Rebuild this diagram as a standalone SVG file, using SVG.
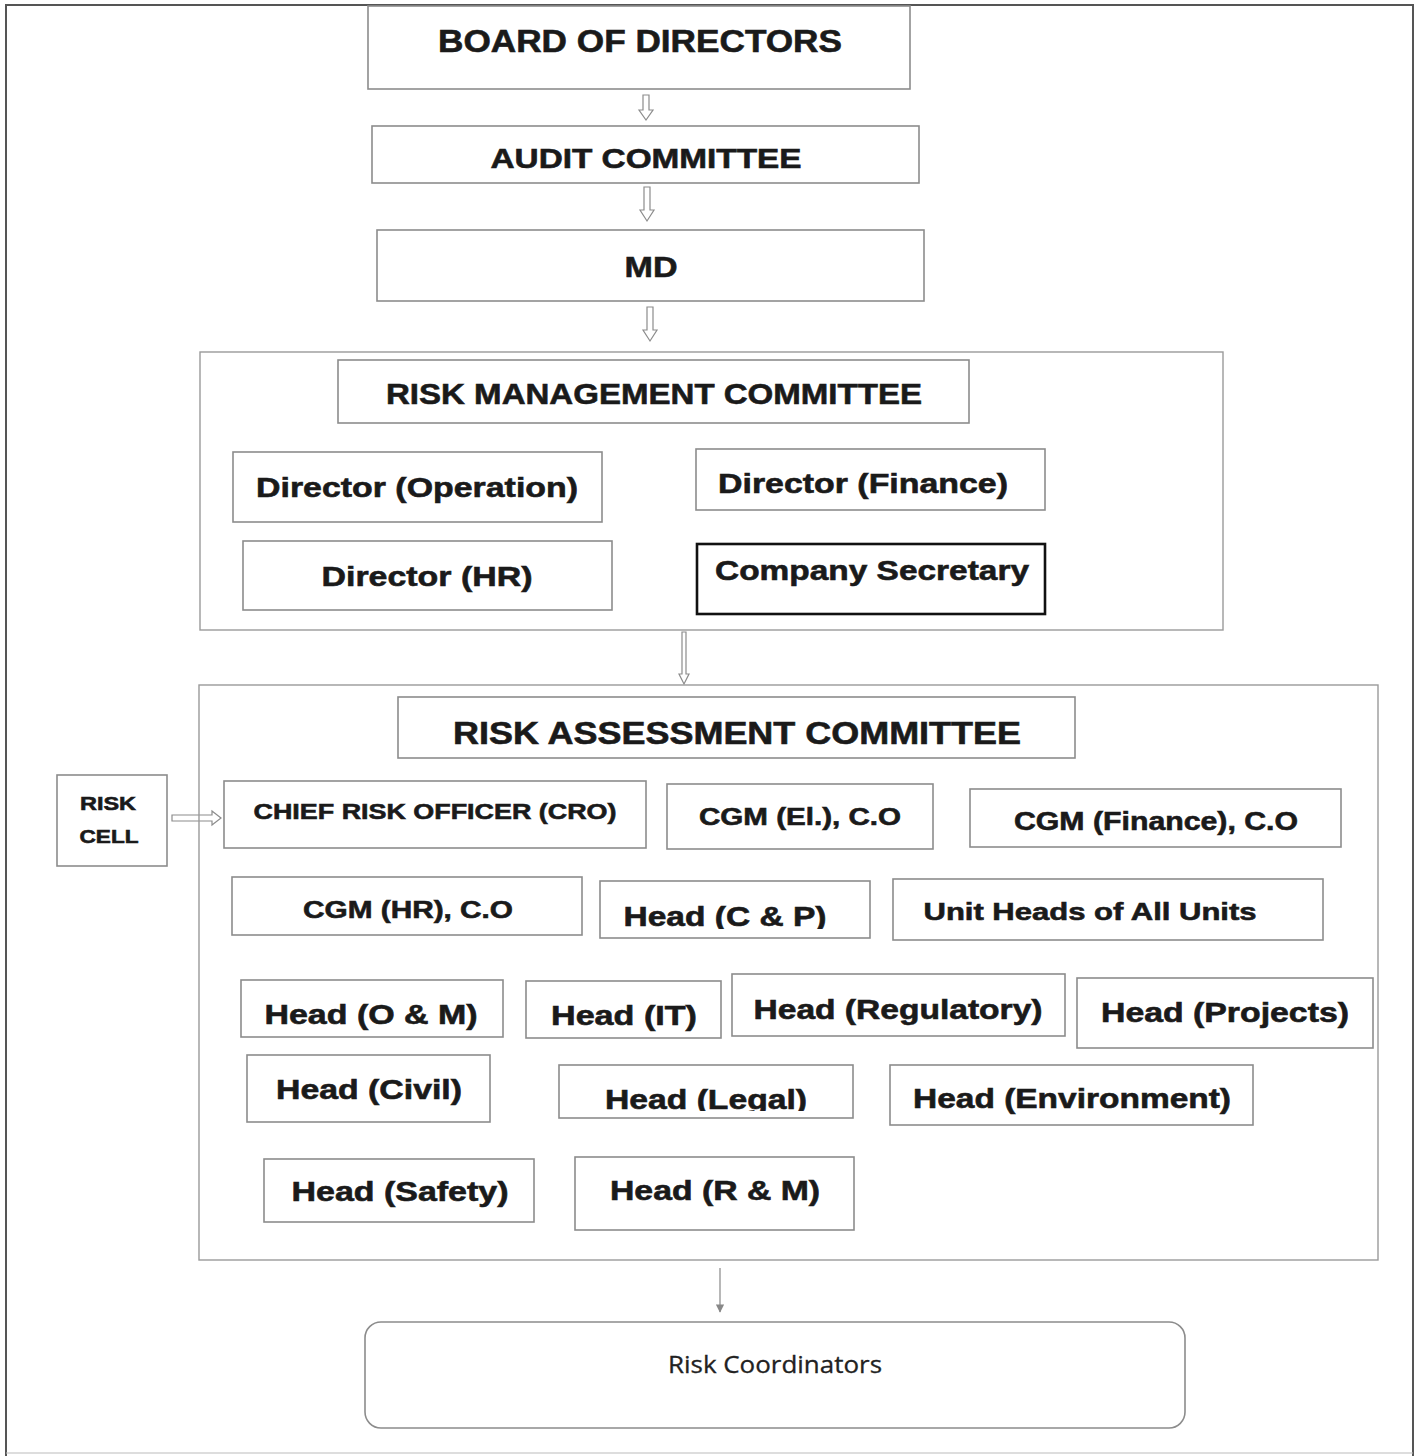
<svg xmlns="http://www.w3.org/2000/svg" width="1418" height="1456" viewBox="0 0 1418 1456">
<style>
.bx{fill:#fff;stroke:#8c8c8c;stroke-width:1.6}
.ct{fill:none;stroke:#9a9a9a;stroke-width:1.4}
.thk{fill:#fff;stroke:#111;stroke-width:2.6}
.t{font-family:"Liberation Sans",Arial,sans-serif;font-weight:bold;fill:#1a1a1a;stroke:#1a1a1a;stroke-width:0.6;text-anchor:middle}
.r{font-family:"Open Sans","Liberation Sans",sans-serif;font-weight:normal;fill:#222;stroke:#222;stroke-width:0.3;text-anchor:middle}
.ar{fill:#fff;stroke:#8c8c8c;stroke-width:1.2}
.ln{fill:none;stroke:#888;stroke-width:1.2}
</style>
<defs>
<marker id="ah" viewBox="0 0 10 10" refX="9" refY="5" markerWidth="7" markerHeight="7" orient="auto">
<path d="M0,0 L10,5 L0,10 Z" fill="#888"/>
</marker>
<clipPath id="clipCP"><rect x="600" y="881" width="270" height="48"/></clipPath>
<clipPath id="clipLG"><rect x="559" y="1065" width="294" height="46"/></clipPath>
</defs>
<rect width="1418" height="1456" fill="#fff"/>
<g id="page-frame">
<path d="M6,1456 L6,5 L1413,5 L1413,1456" fill="none" stroke="#555" stroke-width="2"/>
<path d="M6,1453 L1413,1453" fill="none" stroke="#bbb" stroke-width="1"/>
</g>

<g id="connectors">
<path class="ar" d="M643,95 L649,95 L649,110 L653,110 L646,120 L639,110 L643,110 Z"/>
<path class="ar" d="M644,187 L650,187 L650,210 L654,210 L647,221 L640,210 L644,210 Z"/>
<path class="ar" d="M647,307 L653,307 L653,330 L657,330 L650,341 L643,330 L647,330 Z"/>
<path class="ar" d="M682,632 L686,632 L686,674 L689,674 L684,684 L679,674 L682,674 Z"/>
<path class="ar" d="M172,815 L212,815 L212,811 L221,818 L212,825 L212,821 L172,821 Z"/>
<line class="ln" x1="720" y1="1268" x2="720" y2="1312" marker-end="url(#ah)"/>
</g>

<g id="board">
<rect class="bx" x="368" y="6" width="542" height="83"/>
<text class="t" x="640" y="52" font-size="31" textLength="404" lengthAdjust="spacingAndGlyphs">BOARD OF DIRECTORS</text>
</g>
<g id="audit">
<rect class="bx" x="372" y="126" width="547" height="57"/>
<text class="t" x="646" y="168" font-size="28" textLength="311" lengthAdjust="spacingAndGlyphs">AUDIT COMMITTEE</text>
</g>
<g id="md">
<rect class="bx" x="377" y="230" width="547" height="71"/>
<text class="t" x="651" y="277" font-size="30" textLength="53" lengthAdjust="spacingAndGlyphs">MD</text>
</g>

<g id="rmc">
<rect class="ct" x="200" y="352" width="1023" height="278"/>
<rect class="bx" x="338" y="360" width="631" height="63"/>
<text class="t" x="654" y="404" font-size="30" textLength="536" lengthAdjust="spacingAndGlyphs">RISK MANAGEMENT COMMITTEE</text>
</g>
<g id="dir-operation">
<rect class="bx" x="233" y="452" width="369" height="70"/>
<text class="t" x="417" y="497" font-size="28" textLength="322" lengthAdjust="spacingAndGlyphs">Director (Operation)</text>
</g>
<g id="dir-finance">
<rect class="bx" x="696" y="449" width="349" height="61"/>
<text class="t" x="863" y="493" font-size="28" textLength="290" lengthAdjust="spacingAndGlyphs">Director (Finance)</text>
</g>
<g id="dir-hr">
<rect class="bx" x="243" y="541" width="369" height="69"/>
<text class="t" x="427" y="586" font-size="28" textLength="211" lengthAdjust="spacingAndGlyphs">Director (HR)</text>
</g>
<g id="company-secretary">
<rect class="thk" x="697" y="544" width="348" height="70"/>
<text class="t" x="872" y="580" font-size="28" textLength="314" lengthAdjust="spacingAndGlyphs">Company Secretary</text>
</g>

<g id="rac">
<rect class="ct" x="199" y="685" width="1179" height="575"/>
<rect class="bx" x="398" y="697" width="677" height="61"/>
<text class="t" x="737" y="744" font-size="32" textLength="568" lengthAdjust="spacingAndGlyphs">RISK ASSESSMENT COMMITTEE</text>
</g>
<g id="risk-cell">
<rect class="bx" x="57" y="775" width="110" height="91"/>
<text class="t" x="108" y="810" font-size="19" textLength="56" lengthAdjust="spacingAndGlyphs">RISK</text>
<text class="t" x="109" y="843" font-size="19" textLength="59" lengthAdjust="spacingAndGlyphs">CELL</text>
</g>
<g id="cro">
<rect class="bx" x="224" y="781" width="422" height="67"/>
<text class="t" x="435" y="819" font-size="22" textLength="363" lengthAdjust="spacingAndGlyphs">CHIEF RISK OFFICER (CRO)</text>
</g>
<g id="cgm-el">
<rect class="bx" x="667" y="784" width="266" height="65"/>
<text class="t" x="800" y="825" font-size="24" textLength="202" lengthAdjust="spacingAndGlyphs">CGM (El.), C.O</text>
</g>
<g id="cgm-finance">
<rect class="bx" x="970" y="789" width="371" height="58"/>
<text class="t" x="1156" y="830" font-size="25" textLength="284" lengthAdjust="spacingAndGlyphs">CGM (Finance), C.O</text>
</g>
<g id="cgm-hr">
<rect class="bx" x="232" y="877" width="350" height="58"/>
<text class="t" x="408" y="918" font-size="24" textLength="210" lengthAdjust="spacingAndGlyphs">CGM (HR), C.O</text>
</g>
<g id="head-cp">
<rect class="bx" x="600" y="881" width="270" height="57"/>
<text class="t" x="725" y="926" font-size="27" textLength="203" lengthAdjust="spacingAndGlyphs" clip-path="url(#clipCP)">Head (C &amp; P)</text>
</g>
<g id="unit-heads">
<rect class="bx" x="893" y="879" width="430" height="61"/>
<text class="t" x="1090" y="920" font-size="24" textLength="333" lengthAdjust="spacingAndGlyphs">Unit Heads of All Units</text>
</g>
<g id="head-om">
<rect class="bx" x="241" y="980" width="262" height="57"/>
<text class="t" x="371" y="1024" font-size="27" textLength="213" lengthAdjust="spacingAndGlyphs">Head (O &amp; M)</text>
</g>
<g id="head-it">
<rect class="bx" x="526" y="981" width="195" height="57"/>
<text class="t" x="624" y="1025" font-size="27" textLength="146" lengthAdjust="spacingAndGlyphs">Head (IT)</text>
</g>
<g id="head-regulatory">
<rect class="bx" x="732" y="974" width="333" height="62"/>
<text class="t" x="898" y="1019" font-size="27" textLength="289" lengthAdjust="spacingAndGlyphs">Head (Regulatory)</text>
</g>
<g id="head-projects">
<rect class="bx" x="1077" y="978" width="296" height="70"/>
<text class="t" x="1225" y="1022" font-size="27" textLength="248" lengthAdjust="spacingAndGlyphs">Head (Projects)</text>
</g>
<g id="head-civil">
<rect class="bx" x="247" y="1055" width="243" height="67"/>
<text class="t" x="369" y="1099" font-size="27" textLength="186" lengthAdjust="spacingAndGlyphs">Head (Civil)</text>
</g>
<g id="head-legal">
<rect class="bx" x="559" y="1065" width="294" height="53"/>
<text class="t" x="706" y="1109" font-size="27" textLength="202" lengthAdjust="spacingAndGlyphs" clip-path="url(#clipLG)">Head (Legal)</text>
</g>
<g id="head-environment">
<rect class="bx" x="890" y="1065" width="363" height="60"/>
<text class="t" x="1072" y="1108" font-size="27" textLength="318" lengthAdjust="spacingAndGlyphs">Head (Environment)</text>
</g>
<g id="head-safety">
<rect class="bx" x="264" y="1159" width="270" height="63"/>
<text class="t" x="400" y="1201" font-size="27" textLength="217" lengthAdjust="spacingAndGlyphs">Head (Safety)</text>
</g>
<g id="head-rm">
<rect class="bx" x="575" y="1157" width="279" height="73"/>
<text class="t" x="715" y="1200" font-size="27" textLength="210" lengthAdjust="spacingAndGlyphs">Head (R &amp; M)</text>
</g>
<g id="risk-coordinators">
<rect class="bx" x="365" y="1322" width="820" height="106" rx="16" ry="16"/>
<text class="r" x="775" y="1373" font-size="24" textLength="214" lengthAdjust="spacingAndGlyphs">Risk Coordinators</text>
</g>
</svg>
